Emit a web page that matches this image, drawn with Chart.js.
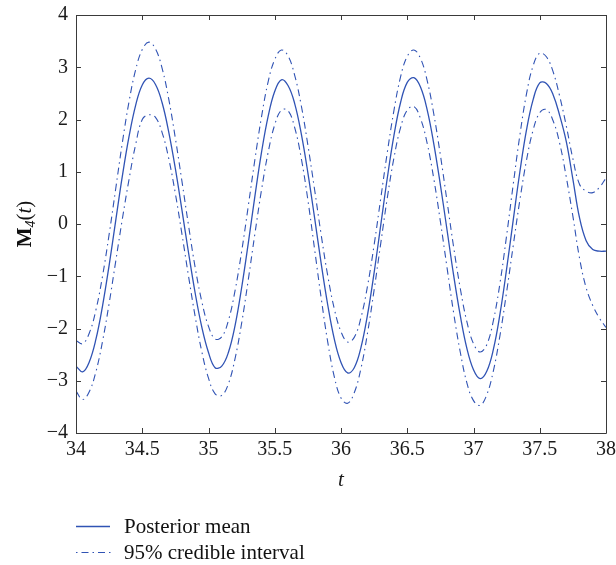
<!DOCTYPE html>
<html>
<head>
<meta charset="utf-8">
<script src="https://cdn.jsdelivr.net/npm/chart.js@4"></script>
<style>
html,body{margin:0;padding:0;background:#fff;}
#wrap{width:616px;height:565px;position:relative;}
</style>
</head>
<body>
<div id="wrap"><canvas id="c" width="616" height="565"></canvas></div>
<script>
// ---- data ----
const t = [34.00,34.05,34.10,34.15,34.20,34.25,34.30,34.35,34.40,34.45,
           34.50,34.55,34.60,34.65,34.70,34.75,34.80,34.85,34.90,34.95,
           35.00,35.05,35.10,35.15,35.20,35.25,35.30,35.35,35.40,35.45,
           35.50,35.55,35.60,35.65,35.70,35.75,35.80,35.85,35.90,35.95,
           36.00,36.05,36.10,36.15,36.20,36.25,36.30,36.35,36.40,36.45,
           36.50,36.55,36.60,36.65,36.70,36.75,36.80,36.85,36.90,36.95,
           37.00,37.05,37.10,37.15,37.20,37.25,37.30,37.35,37.40,37.45,
           37.50,37.55,37.60,37.65,37.70,37.75,37.80,37.85,37.90,37.95,
           38.00];

const posteriorMean = [-2.72,-2.83,-2.64,-2.21,-1.57,-0.79,0.07,0.92,1.67,2.27,
                       2.66,2.79,2.67,2.32,1.76,1.06,0.26,-0.56,-1.33,-1.98,
                       -2.46,-2.75,-2.72,-2.46,-1.95,-1.22,-0.37,0.53,1.37,2.06,
                       2.54,2.76,2.65,2.31,1.73,0.98,0.13,-0.75,-1.55,-2.21,
                       -2.65,-2.85,-2.75,-2.37,-1.74,-0.93,-0.02,0.89,1.70,2.33,
                       2.71,2.80,2.62,2.19,1.54,0.75,-0.11,-0.98,-1.75,-2.38,
                       -2.79,-2.96,-2.82,-2.40,-1.72,-0.86,0.08,1.00,1.80,2.38,
                       2.70,2.69,2.48,2.08,1.58,0.86,0.12,-0.32,-0.49,-0.52,
                       -0.52];

const upper95 = [-2.23,-2.29,-2.09,-1.65,-1.00,-0.20,0.68,1.56,2.34,2.95,
                 3.34,3.48,3.35,2.98,2.39,1.64,0.81,-0.04,-0.84,-1.49,
                 -1.96,-2.20,-2.16,-1.85,-1.28,-0.53,0.34,1.23,2.05,2.72,
                 3.15,3.33,3.22,2.85,2.27,1.51,0.67,-0.20,-0.99,-1.63,
                 -2.06,-2.26,-2.17,-1.80,-1.19,-0.40,0.49,1.38,2.18,2.82,
                 3.21,3.33,3.17,2.75,2.11,1.32,0.44,-0.44,-1.23,-1.87,
                 -2.29,-2.45,-2.31,-1.85,-1.13,-0.22,0.76,1.70,2.49,3.03,
                 3.27,3.20,2.92,2.45,1.88,1.25,0.76,0.63,0.60,0.70,
                 0.88];

const lower95 = [-3.20,-3.36,-3.21,-2.83,-2.25,-1.52,-0.71,0.10,0.85,1.52,
                 2.00,2.09,2.04,1.75,1.25,0.58,-0.20,-1.01,-1.78,-2.45,
                 -2.95,-3.25,-3.28,-3.06,-2.58,-1.90,-1.07,-0.19,0.65,1.37,
                 1.90,2.18,2.17,1.85,1.26,0.46,-0.47,-1.41,-2.26,-2.93,
                 -3.33,-3.43,-3.23,-2.77,-2.09,-1.26,-0.37,0.51,1.27,1.85,
                 2.18,2.25,2.02,1.55,0.87,0.05,-0.83,-1.70,-2.45,-3.04,
                 -3.38,-3.47,-3.27,-2.81,-2.13,-1.30,-0.41,0.46,1.22,1.80,
                 2.13,2.19,1.98,1.55,0.90,0.15,-0.65,-1.22,-1.56,-1.80,
                 -1.98];

const xTicks = [34, 34.5, 35, 35.5, 36, 36.5, 37, 37.5, 38];
const yTicks = [-4, -3, -2, -1, 0, 1, 2, 3, 4];
const seriesLabels = ['Posterior mean', '95% credible interval'];
const xTitle = 't';

// ---- styles ----
const BLUE = '#3053b4';
const SERIF = '"Liberation Serif", "DejaVu Serif", serif';
const DASHDOT = [7, 4, 1.5, 4];

const pts = arr => arr.map((v, i) => ({x: t[i], y: v}));

const framePlugin = {
  id: 'frame',
  afterDatasetsDraw(chart) {
    const {ctx, chartArea: a, scales: {x, y}} = chart;
    ctx.save();
    ctx.strokeStyle = '#3a3a3a';
    ctx.lineWidth = 1;
    ctx.beginPath();
    ctx.rect(Math.round(a.left) + 0.5, Math.round(a.top) + 0.5,
             Math.round(a.right - a.left), Math.round(a.bottom - a.top));
    ctx.stroke();
    const L = 5;
    ctx.beginPath();
    xTicks.forEach(v => {
      const px = Math.round(x.getPixelForValue(v)) + 0.5;
      ctx.moveTo(px, a.bottom); ctx.lineTo(px, a.bottom - L);
      ctx.moveTo(px, a.top); ctx.lineTo(px, a.top + L);
    });
    yTicks.forEach(v => {
      const py = Math.round(y.getPixelForValue(v)) + 0.5;
      ctx.moveTo(a.left, py); ctx.lineTo(a.left + L, py);
      ctx.moveTo(a.right, py); ctx.lineTo(a.right - L, py);
    });
    ctx.stroke();
    ctx.restore();
  },
  afterDraw(chart) {
    const {ctx, chartArea: a} = chart;
    ctx.save();
    // y-axis title: bold M, italic subscript 4, (t) with italic t
    const cy = (a.top + a.bottom) / 2;
    const cx = 31;
    ctx.translate(cx, cy);
    ctx.rotate(-Math.PI / 2);
    ctx.fillStyle = '#111';
    ctx.textBaseline = 'alphabetic';
    const parts = [
      {s: 'M', f: 'bold 21px ' + SERIF, dy: 0},
      {s: '4', f: 'italic 14px ' + SERIF, dy: 4},
      {s: '(', f: '21px ' + SERIF, dy: 0},
      {s: 't', f: 'italic 21px ' + SERIF, dy: 0},
      {s: ')', f: '21px ' + SERIF, dy: 0}
    ];
    let total = 0;
    parts.forEach(p => { ctx.font = p.f; p.w = ctx.measureText(p.s).width; total += p.w; });
    let px = -total / 2;
    parts.forEach(p => { ctx.font = p.f; ctx.fillText(p.s, px, p.dy); px += p.w; });
    ctx.restore();

    // legend
    ctx.save();
    ctx.strokeStyle = BLUE;
    ctx.fillStyle = '#111';
    ctx.font = '21px ' + SERIF;
    ctx.textBaseline = 'alphabetic';
    ctx.lineWidth = 1.3;
    ctx.beginPath(); ctx.moveTo(76, 526.5); ctx.lineTo(110, 526.5); ctx.stroke();
    ctx.fillText(seriesLabels[0], 124, 533);
    ctx.lineWidth = 1.1;
    ctx.setLineDash([1.5, 4, 7, 4]);
    ctx.beginPath(); ctx.moveTo(76, 552.5); ctx.lineTo(111, 552.5); ctx.stroke();
    ctx.setLineDash([]);
    ctx.fillText(seriesLabels[1], 124, 559);
    ctx.restore();
  }
};

new Chart(document.getElementById('c'), {
  type: 'line',
  data: {
    datasets: [
      {label: seriesLabels[0], data: pts(posteriorMean), borderColor: BLUE, borderWidth: 1.3,
       pointRadius: 0, tension: 0.4, fill: false},
      {label: seriesLabels[1], data: pts(upper95), borderColor: BLUE, borderWidth: 1.1,
       borderDash: DASHDOT, pointRadius: 0, tension: 0.4, fill: false},
      {label: seriesLabels[1] + ' (lower)', data: pts(lower95), borderColor: BLUE, borderWidth: 1.1,
       borderDash: DASHDOT, pointRadius: 0, tension: 0.4, fill: false}
    ]
  },
  options: {
    responsive: false,
    animation: false,
    devicePixelRatio: 1,
    layout: {padding: {top: 15, right: 10, bottom: 72, left: 0}},
    plugins: {legend: {display: false}, tooltip: {enabled: false}},
    scales: {
      x: {
        type: 'linear', min: 34, max: 38,
        afterBuildTicks: s => { s.ticks = xTicks.map(v => ({value: v})); },
        afterFit: s => { s.height = 60; s.paddingLeft = 0; s.paddingRight = 0; },
        grid: {display: false, drawTicks: false},
        border: {display: false},
        ticks: {color: '#1a1a1a', font: {family: SERIF, size: 20}, padding: 5, maxRotation: 0, autoSkip: false,
                callback: v => String(v)},
        title: {display: true, text: xTitle, color: '#1a1a1a',
                font: {family: SERIF, size: 21, style: 'italic'}, padding: {top: 0, bottom: 0}}
      },
      y: {
        type: 'linear', min: -4, max: 4,
        afterBuildTicks: s => { s.ticks = yTicks.map(v => ({value: v})); },
        afterFit: s => { s.width = 76; s.paddingTop = 0; s.paddingBottom = 0; },
        grid: {display: false, drawTicks: false},
        border: {display: false},
        ticks: {color: '#1a1a1a', font: {family: SERIF, size: 20}, padding: 8,
                callback: v => (v < 0 ? '\u2212' + Math.abs(v) : String(v))}
      }
    }
  },
  plugins: [framePlugin]
});
</script>
</body>
</html>
